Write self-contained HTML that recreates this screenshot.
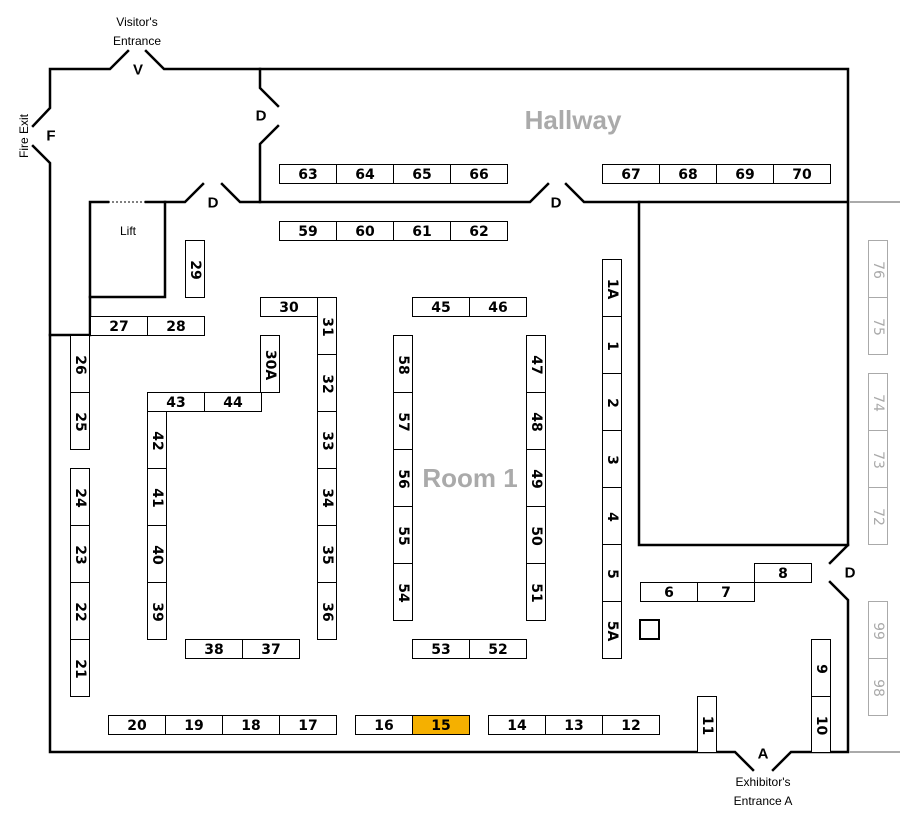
<!DOCTYPE html>
<html><head><meta charset="utf-8"><style>
html,body{margin:0;padding:0;background:#fff;}
svg{display:block;}
.b{fill:#fff;stroke:#000;stroke-width:1;}
.g{fill:#fff;stroke:#aaa;stroke-width:1;}
.w{stroke:#000;stroke-width:2.5;fill:none;stroke-linecap:square;}
text{font-family:"DejaVu Sans",sans-serif;font-weight:bold;font-size:14px;text-anchor:middle;dominant-baseline:central;}
.t{fill:#000;}
.gt{fill:#aaa;font-weight:normal;}
.s{font-family:"Liberation Sans",sans-serif;font-weight:normal;font-size:12px;}
</style></head><body>
<svg width="900" height="822" viewBox="0 0 900 822" xmlns="http://www.w3.org/2000/svg">
<g class="w">
<polyline points="50,335 50,163 33,146"/>
<polyline points="33,126 50,108 50,69 110,69 128,51"/>
<polyline points="146,51 164,69 848,69 848,545 830,563"/>
<polyline points="830,582 848,600 848,752 791,752 773,770"/>
<polyline points="753,770 735,752 50,752 50,335 90,335 90,202 108,202"/>
<polyline points="146,202 185,202 203,184"/>
<polyline points="222,184 240,202 530,202 548,184"/>
<polyline points="566,184 584,202 848,202"/>
<polyline points="260,69 260,88 278,106"/>
<polyline points="278,126 260,144 260,202"/>
<polyline points="90,297 165,297 165,202"/>
<polyline points="639,202 639,545 848,545"/>
</g>
<line x1="108" y1="202" x2="146" y2="202" stroke="#000" stroke-width="1" stroke-dasharray="2,2"/>
<line x1="849" y1="202" x2="900" y2="202" stroke="#aaa" stroke-width="2"/>
<line x1="849" y1="752" x2="900" y2="752" stroke="#aaa" stroke-width="2"/>
<rect x="640" y="620" width="19" height="19" fill="none" stroke="#000" stroke-width="2"/>

<g id="booths"></g>
<text x="573" y="120" style="font-family:'Liberation Sans',sans-serif;font-size:26px;fill:#aaa">Hallway</text>
<text x="470" y="478" style="font-family:'Liberation Sans',sans-serif;font-size:26px;fill:#aaa">Room 1</text>
<text class="t" x="138" y="70" style="font-family:'Liberation Sans',sans-serif;font-size:15px">V</text>
<text class="t" x="51" y="136" style="font-family:'Liberation Sans',sans-serif;font-size:15px">F</text>
<text class="t" x="261" y="116" style="font-family:'Liberation Sans',sans-serif;font-size:15px">D</text>
<text class="t" x="213" y="203" style="font-family:'Liberation Sans',sans-serif;font-size:15px">D</text>
<text class="t" x="556" y="203" style="font-family:'Liberation Sans',sans-serif;font-size:15px">D</text>
<text class="t" x="850" y="573" style="font-family:'Liberation Sans',sans-serif;font-size:15px">D</text>
<text class="t" x="763" y="754" style="font-family:'Liberation Sans',sans-serif;font-size:15px">A</text>
<text class="s" x="137" y="22">Visitor's</text>
<text class="s" x="137" y="41">Entrance</text>
<text class="s" x="763" y="782">Exhibitor's</text>
<text class="s" x="763" y="801">Entrance A</text>
<text class="s" x="128" y="231">Lift</text>
<text class="s" transform="translate(24,136) rotate(-90)">Fire Exit</text>
</svg>
<script>
var B=[
['h',279,164,'63'],['h',336,164,'64'],['h',393,164,'65'],['h',450,164,'66'],
['h',602,164,'67'],['h',659,164,'68'],['h',716,164,'69'],['h',773,164,'70'],
['h',279,221,'59'],['h',336,221,'60'],['h',393,221,'61'],['h',450,221,'62'],
['h',260,297,'30'],['h',412,297,'45'],['h',469,297,'46'],
['h',90,316,'27'],['h',147,316,'28'],
['h',147,392,'43'],['h',204,392,'44'],
['h',185,639,'38'],['h',242,639,'37'],['h',412,639,'53'],['h',469,639,'52'],
['h',640,582,'6'],['h',697,582,'7'],['h',754,563,'8'],
['h',108,715,'20'],['h',165,715,'19'],['h',222,715,'18'],['h',279,715,'17'],
['h',355,715,'16'],['o',412,715,'15'],
['h',488,715,'14'],['h',545,715,'13'],['h',602,715,'12'],
['v',185,240,'29'],
['v',317,297,'31'],['v',317,354,'32'],['v',317,411,'33'],['v',317,468,'34'],['v',317,525,'35'],['v',317,582,'36'],
['v',602,259,'1A'],['v',602,316,'1'],['v',602,373,'2'],['v',602,430,'3'],['v',602,487,'4'],['v',602,544,'5'],['v',602,601,'5A'],
['v',70,335,'26'],['v',70,392,'25'],['v',260,335,'30A'],
['v',393,335,'58'],['v',393,392,'57'],['v',393,449,'56'],['v',393,506,'55'],['v',393,563,'54'],
['v',526,335,'47'],['v',526,392,'48'],['v',526,449,'49'],['v',526,506,'50'],['v',526,563,'51'],
['v',147,411,'42'],['v',147,468,'41'],['v',147,525,'40'],['v',147,582,'39'],
['v',70,468,'24'],['v',70,525,'23'],['v',70,582,'22'],['v',70,639,'21'],
['v',811,639,'9'],['v',811,696,'10'],['v',697,696,'11'],
['g',868,240,'76'],['g',868,297,'75'],['g',868,373,'74'],['g',868,430,'73'],['g',868,487,'72'],['g',868,601,'99'],['g',868,658,'98']
];
var ns='http://www.w3.org/2000/svg',G=document.getElementById('booths');
B.forEach(function(b){
 var t=b[0],x=b[1],y=b[2],w,h;
 if(t=='h'||t=='o'){w=57;h=19;}else{w=19;h=57;}
 if(t=='v'&&(b[3]=='10'||b[3]=='11')){h=56;}
 var r=document.createElementNS(ns,'rect');
 r.setAttribute('x',x+0.5);r.setAttribute('y',y+0.5);r.setAttribute('width',w);r.setAttribute('height',h);
 r.setAttribute('class',t=='g'?'g':'b');
 if(t=='o')r.setAttribute('style','fill:#f5b000');
 G.appendChild(r);
 var tx=document.createElementNS(ns,'text');
 var cx=x+0.5+w/2,cy=y+0.5+h/2+1;
 tx.setAttribute('x',0);tx.setAttribute('y',0);
 tx.setAttribute('class',t=='g'?'gt':'t');
 tx.setAttribute('transform','translate('+cx+','+cy+')'+(t=='v'||t=='g'?' rotate(90)':''));
 tx.textContent=b[3];G.appendChild(tx);
});
</script>
</body></html>
